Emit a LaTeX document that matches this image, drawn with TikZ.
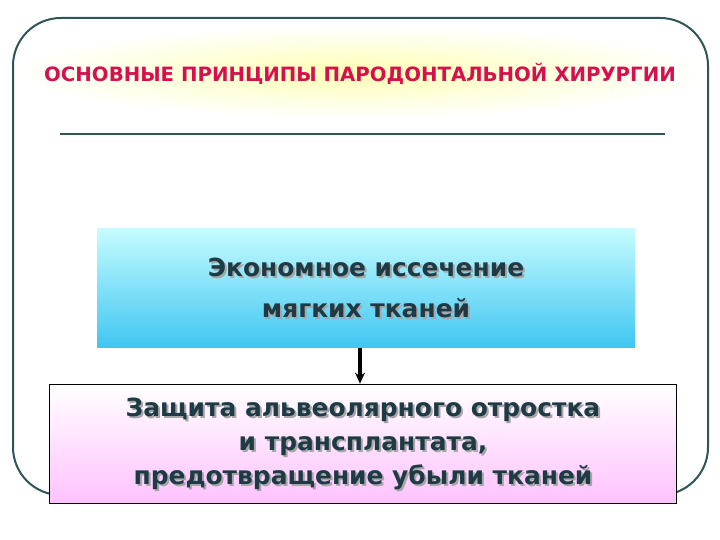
\documentclass[tikz,border=0pt]{standalone}
\usepackage{fontspec}
\setmainfont{DejaVu Sans}
\usepackage{tikz}
\usetikzlibrary{positioning,arrows.meta}

\definecolor{frameline}{HTML}{2F5555}
\definecolor{titlered}{HTML}{D6104E}
\definecolor{boxtext}{HTML}{1E3A45}
\definecolor{cyantop}{HTML}{C6FCFF}
\definecolor{cyanbottom}{HTML}{3FC6F2}
\definecolor{pinkbottom}{HTML}{FFC2FF}

\tikzset{
  box/.style={minimum width=#1,minimum height=120,inner sep=0pt},
  boxtext/.style={align=center,text=boxtext,font=\bfseries\fontsize{25}{#1}\selectfont},
  shadowtext/.style={align=center,text=gray!70,font=\bfseries\fontsize{25}{#1}\selectfont},
}

\begin{document}
\begin{tikzpicture}[x=1bp,y=-1bp]
    \useasboundingbox (0,0) rectangle (720,540);
    % yellow glow behind the title
    \shade[inner color=yellow!30,outer color=white] (360,72) ellipse [x radius=350, y radius=46];
    \draw[frameline,line width=2bp,rounded corners=48] (13,495) -- (13,18) -- (708,18) -- (708,495) -- cycle;
    \node[text=titlered,font=\bfseries\fontsize{19.8}{22}\selectfont] (title) at (360,74)
      {ОСНОВНЫЕ ПРИНЦИПЫ ПАРОДОНТАЛЬНОЙ ХИРУРГИИ};
    \draw[frameline,line width=2.5bp] (60,134) -- (665,134);
    % upper box
    \node[box=540,top color=cyantop,bottom color=cyanbottom] (upper) at (366,288) {};
    \node[shadowtext=42] (uppershadow) at (368,290) {Экономное иссечение\\мягких тканей};
    \node[boxtext=42] (uppertext) at (366,288) {Экономное иссечение\\мягких тканей};
    % lower box
    \node[box=630,draw=black,line width=1.2bp,top color=white,bottom color=pinkbottom] (lower) at (363,444) {};
    \node[shadowtext=34] (lowershadow) at (365,446)
      {Защита альвеолярного отростка\\и трансплантата,\\предотвращение убыли тканей};
    \node[boxtext=34] (lowertext) at (363,444)
      {Защита альвеолярного отростка\\и трансплантата,\\предотвращение убыли тканей};
    \draw[-{Stealth[length=11bp,width=10bp]},line width=3.5bp] (upper.south -| 360,0) -- (lower.north -| 360,0);
  \end{tikzpicture}
\end{document}
